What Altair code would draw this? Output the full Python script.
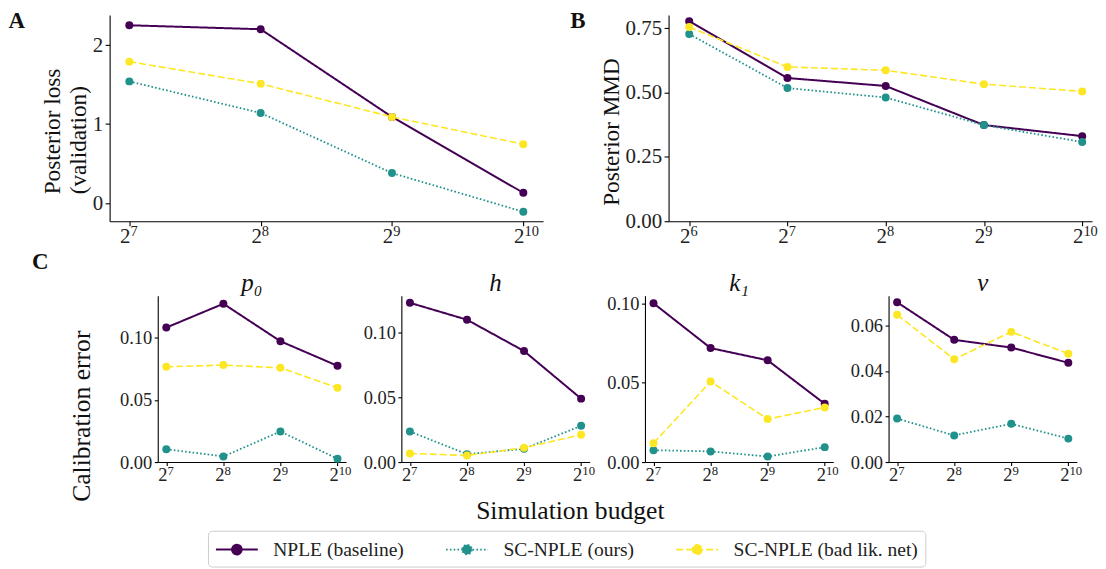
import altair as alt
import pandas as pd

FONT = "Liberation Serif, DejaVu Serif"
SERIES = ["NPLE (baseline)", "SC-NPLE (ours)", "SC-NPLE (bad lik. net)"]
COLORS = ["#440154", "#21918c", "#fde725"]
DASHES = [[1, 0], [1.6, 2.2], [7, 3]]
WIDTHS = [2.0, 1.6, 2.0]

# x values are log2 of the simulation budget; tick labels are 2^exp
EXP_A = [7, 8, 9, 10]
EXP_B = [6, 7, 8, 9, 10]
EXP_C = [7, 8, 9, 10]
TICK_BASE = "2"
TICK_EXP = [6, 7, 8, 9, 10]

# Panel A: posterior loss (validation)
LOSS_NPLE = [2.25, 2.20, 1.09, 0.13]
LOSS_SC = [1.54, 1.14, 0.38, -0.11]
LOSS_BAD = [1.79, 1.51, 1.09, 0.745]

# Panel B: posterior MMD
MMD_NPLE = [0.778, 0.557, 0.526, 0.374, 0.331]
MMD_SC = [0.728, 0.518, 0.481, 0.374, 0.308]
MMD_BAD = [0.755, 0.600, 0.587, 0.533, 0.505]

# Panel C: calibration error per parameter
P0_NPLE = [0.1083, 0.1275, 0.0973, 0.0775]
P0_SC = [0.0104, 0.0045, 0.0246, 0.0027]
P0_BAD = [0.0767, 0.0781, 0.0759, 0.0599]

H_NPLE = [0.1225, 0.1095, 0.0854, 0.0488]
H_SC = [0.0235, 0.0061, 0.0102, 0.0279]
H_BAD = [0.0066, 0.0051, 0.0110, 0.0210]

K1_NPLE = [0.1000, 0.0718, 0.0641, 0.0367]
K1_SC = [0.0075, 0.0067, 0.0035, 0.0094]
K1_BAD = [0.0119, 0.0507, 0.0271, 0.0344]

NU_NPLE = [0.0702, 0.0537, 0.0503, 0.0436]
NU_SC = [0.0191, 0.0117, 0.0168, 0.0103]
NU_BAD = [0.0647, 0.0452, 0.0572, 0.0476]

PARAM_TITLES = ["p₀", "h", "k₁", "ν"]


def frame(exps, *series_vals):
    rows = []
    for name, vals in zip(SERIES, series_vals):
        for e, v in zip(exps, vals):
            rows.append({"exp": e, "val": v, "series": name})
    return pd.DataFrame(rows)


LEGEND_PATH = "M-2,0L2,0M0.46,0A0.46,0.46,0,1,1,-0.46,0A0.46,0.46,0,1,1,0.46,0Z"
LEGEND = alt.Legend(
    title=None, orient="none", legendX=98.7, legendY=517.6,
    direction="horizontal", columns=3, symbolType=LEGEND_PATH, symbolSize=441,
    symbolOffset=10.5, symbolStrokeWidth=1.0, labelFont=FONT, labelFontSize=19.6,
    labelColor="#222", labelOffset=25, columnPadding=38, padding=7,
    strokeColor="#cccccc", fillColor="white", cornerRadius=4, labelLimit=400,
)


def text_layer(text, x, y, size, weight="normal", opacity=1.0, align="left",
               baseline="top", style="normal", angle=0):
    return alt.Chart(pd.DataFrame({"t": [text]})).mark_text(
        text=text, font=FONT, fontSize=size, fontWeight=weight, fontStyle=style,
        align=align, baseline=baseline, opacity=opacity, color="#111", angle=angle,
    ).encode(x=alt.value(x), y=alt.value(y))


def panel(df, xdom, ydom, yticks, yfmt, w, h, fs, ts, extras=()):
    color = alt.Color("series:N", scale=alt.Scale(domain=SERIES, range=COLORS), legend=LEGEND)
    dash = alt.StrokeDash("series:N", scale=alt.Scale(domain=SERIES, range=DASHES), legend=LEGEND)
    sw = alt.StrokeWidth("series:N", scale=alt.Scale(domain=SERIES, range=WIDTHS), legend=None)
    xticks = [e for e in TICK_EXP if xdom[0] <= e <= xdom[1]]
    x = alt.X("exp:Q", scale=alt.Scale(domain=xdom, nice=False, zero=False),
              axis=alt.Axis(values=xticks, labels=False, title=None, tickSize=ts))
    y = alt.Y("val:Q", scale=alt.Scale(domain=ydom, nice=False, zero=False),
              axis=alt.Axis(values=yticks, labels=False, tickSize=ts, title=None))
    lines = alt.Chart(df).mark_line().encode(x=x, y=y, color=color, strokeDash=dash, strokeWidth=sw)
    pts = alt.Chart(df).mark_point(filled=True, size=64, opacity=1).encode(x=x, y=y, color=color)

    # tick labels drawn through the panel's own scales
    xt = pd.DataFrame({"exp": xticks, "base": [TICK_BASE] * len(xticks),
                       "sup": [str(e) for e in xticks]})
    base_off = h + fs * 1.05
    xbase = alt.Chart(xt).mark_text(font=FONT, fontSize=fs, align="right", dx=1.2,
                                    baseline="alphabetic", color="#222").encode(
        x="exp:Q", y=alt.value(base_off), text="base:N")
    xsup = alt.Chart(xt).mark_text(font=FONT, fontSize=fs * 0.69, align="left", dx=1.2,
                                   baseline="alphabetic", color="#222").encode(
        x="exp:Q", y=alt.value(base_off - fs * 0.36), text="sup:N")
    yt = pd.DataFrame({"val": yticks})
    ylab = alt.Chart(yt).mark_text(font=FONT, fontSize=fs, align="right", dy=0.5,
                                   baseline="middle", color="#222").encode(
        y="val:Q", x=alt.value(-ts - 2), text=alt.Text("val:Q", format=yfmt))
    return alt.layer(lines, pts, xbase, xsup, ylab, *extras).properties(width=w, height=h)


A_W, A_H = 435, 207
B_W = 425
C_W, C_H = 189, 167

chart_a = panel(
    frame(EXP_A, LOSS_NPLE, LOSS_SC, LOSS_BAD), [6.85, 10.15], [-0.23, 2.38], [0, 1, 2], "d",
    A_W, A_H, 21, 4.5,
    extras=[
        text_layer("A", -101.6, -5.3, 23, weight="bold"),
        text_layer("Posterior loss", -49.5, 180, 23.3, angle=270, baseline="alphabetic"),
        text_layer("(validation)", -24, 180, 23.3, angle=270, baseline="alphabetic"),
        text_layer(".", -101.6, 250, 1, opacity=0),
    ],
)
chart_b = panel(
    frame(EXP_B, MMD_NPLE, MMD_SC, MMD_BAD), [5.79, 10.1], [0, 0.802], [0, 0.25, 0.5, 0.75], ".2f",
    B_W, A_H, 21, 4.5,
    extras=[
        text_layer("B", -98.6, -5.3, 23, weight="bold"),
        text_layer("Posterior MMD", -50, 117.5, 23.3, angle=270, align="center",
                   baseline="alphabetic"),
    ],
)

c_specs = [
    (P0_NPLE, P0_SC, P0_BAD, 0.134, [0, 0.05, 0.10]),
    (H_NPLE, H_SC, H_BAD, 0.128, [0, 0.05, 0.10]),
    (K1_NPLE, K1_SC, K1_BAD, 0.1048, [0, 0.05, 0.10]),
    (NU_NPLE, NU_SC, NU_BAD, 0.0731, [0, 0.02, 0.04, 0.06]),
]
c_charts = []
for i, (n, s, b, top, yt) in enumerate(c_specs):
    extras = [text_layer(PARAM_TITLES[i], C_W / 2, -5, 25, style="italic",
                         align="center", baseline="alphabetic")]
    if i == 0:
        extras += [
            text_layer(".", -101.6, -46, 1, opacity=0),
            text_layer("C", -126.2, -44.5, 23, weight="bold"),
            text_layer("Calibration error", -67.5, 121, 25.7, angle=270, align="center",
                       baseline="alphabetic"),
            text_layer("Simulation budget", 414.1, 224.3, 25.7, align="center",
                       baseline="alphabetic"),
        ]
    c_charts.append(panel(
        frame(EXP_C, n, s, b), [6.85, 10.15], [0, top], yt, ".2f",
        C_W, C_H, 18.5, 3.5, extras=extras))

spacer = alt.Chart(pd.DataFrame({"t": [""]})).mark_text(text="", opacity=0).encode(
    x=alt.value(0), y=alt.value(0)).properties(width=1, height=1)

row1 = alt.hconcat(chart_a, chart_b, spacing=126, bounds="flush")
row2_inner = alt.hconcat(*c_charts, spacing=55.5, bounds="flush")
row2 = alt.hconcat(spacer, row2_inner, spacing=47.3, bounds="flush")

chart = alt.vconcat(row1, row2, spacing=-15.3).properties(padding=0).configure(
    font=FONT,
    style={"guide-label": {"font": FONT}, "guide-title": {"font": FONT}},
).configure_view(strokeWidth=0).configure_axis(
    domainColor="black", tickColor="black", grid=False,
    domainWidth=1.1, tickWidth=1.1,
).configure_legend(labelFont=FONT)

chart.save("out.html", embed_options={"renderer": "svg", "actions": False})
